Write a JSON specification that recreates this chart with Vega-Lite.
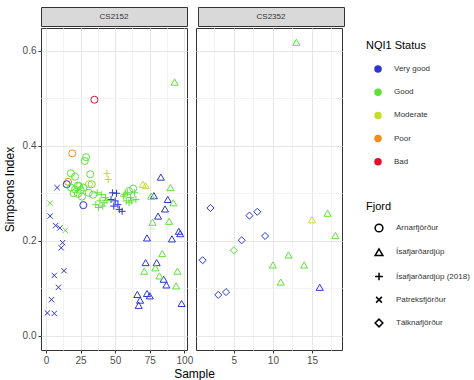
{
  "$schema": "https://vega.github.io/schema/vega-lite/v6.json",
  "padding": {"left": 2, "top": 6, "right": 0, "bottom": 0},
  "background": "white",
  "config": {
    "font": "Liberation Sans",
    "view": {"stroke": "#333333", "strokeWidth": 1},
    "axis": {"labelFontSize": 10, "labelColor": "#4d4d4d", "titleFontSize": 12, "titleColor": "#000000", "titleFontWeight": "normal", "tickColor": "#333333", "tickSize": 3, "labelPadding": 2, "domain": false},
    "legend": {"titleFontSize": 11, "titleFontWeight": "normal", "titleColor": "#000000", "labelFontSize": 8, "labelColor": "#333333"}
  },
  "datasets": {
    "pts": [
      {"panel": "CS2152", "sample": 1, "simpson": 0.048, "status": "Very good", "fjord": "Patreksfjörður"},
      {"panel": "CS2152", "sample": 6, "simpson": 0.047, "status": "Very good", "fjord": "Patreksfjörður"},
      {"panel": "CS2152", "sample": 4, "simpson": 0.076, "status": "Very good", "fjord": "Patreksfjörður"},
      {"panel": "CS2152", "sample": 9, "simpson": 0.102, "status": "Very good", "fjord": "Patreksfjörður"},
      {"panel": "CS2152", "sample": 6, "simpson": 0.127, "status": "Very good", "fjord": "Patreksfjörður"},
      {"panel": "CS2152", "sample": 13, "simpson": 0.137, "status": "Very good", "fjord": "Patreksfjörður"},
      {"panel": "CS2152", "sample": 11, "simpson": 0.185, "status": "Very good", "fjord": "Patreksfjörður"},
      {"panel": "CS2152", "sample": 12, "simpson": 0.196, "status": "Very good", "fjord": "Patreksfjörður"},
      {"panel": "CS2152", "sample": 7, "simpson": 0.232, "status": "Very good", "fjord": "Patreksfjörður"},
      {"panel": "CS2152", "sample": 10, "simpson": 0.227, "status": "Very good", "fjord": "Patreksfjörður"},
      {"panel": "CS2152", "sample": 14, "simpson": 0.222, "status": "Good", "fjord": "Patreksfjörður"},
      {"panel": "CS2152", "sample": 3, "simpson": 0.252, "status": "Very good", "fjord": "Patreksfjörður"},
      {"panel": "CS2152", "sample": 8, "simpson": 0.312, "status": "Very good", "fjord": "Patreksfjörður"},
      {"panel": "CS2152", "sample": 3, "simpson": 0.279, "status": "Good", "fjord": "Patreksfjörður"},
      {"panel": "CS2152", "sample": 35, "simpson": 0.497, "status": "Bad", "fjord": "Arnarfjörður"},
      {"panel": "CS2152", "sample": 19, "simpson": 0.384, "status": "Poor", "fjord": "Arnarfjörður"},
      {"panel": "CS2152", "sample": 16, "simpson": 0.324, "status": "Poor", "fjord": "Arnarfjörður"},
      {"panel": "CS2152", "sample": 15, "simpson": 0.319, "status": "Very good", "fjord": "Arnarfjörður"},
      {"panel": "CS2152", "sample": 27, "simpson": 0.275, "status": "Very good", "fjord": "Arnarfjörður"},
      {"panel": "CS2152", "sample": 31, "simpson": 0.319, "status": "Moderate", "fjord": "Arnarfjörður"},
      {"panel": "CS2152", "sample": 29, "simpson": 0.376, "status": "Good", "fjord": "Arnarfjörður"},
      {"panel": "CS2152", "sample": 28, "simpson": 0.368, "status": "Good", "fjord": "Arnarfjörður"},
      {"panel": "CS2152", "sample": 18, "simpson": 0.342, "status": "Good", "fjord": "Arnarfjörður"},
      {"panel": "CS2152", "sample": 21, "simpson": 0.335, "status": "Good", "fjord": "Arnarfjörður"},
      {"panel": "CS2152", "sample": 32, "simpson": 0.340, "status": "Good", "fjord": "Arnarfjörður"},
      {"panel": "CS2152", "sample": 23, "simpson": 0.316, "status": "Good", "fjord": "Arnarfjörður"},
      {"panel": "CS2152", "sample": 33, "simpson": 0.319, "status": "Good", "fjord": "Arnarfjörður"},
      {"panel": "CS2152", "sample": 18, "simpson": 0.312, "status": "Good", "fjord": "Arnarfjörður"},
      {"panel": "CS2152", "sample": 21, "simpson": 0.308, "status": "Good", "fjord": "Arnarfjörður"},
      {"panel": "CS2152", "sample": 24, "simpson": 0.315, "status": "Good", "fjord": "Arnarfjörður"},
      {"panel": "CS2152", "sample": 25, "simpson": 0.307, "status": "Good", "fjord": "Arnarfjörður"},
      {"panel": "CS2152", "sample": 27, "simpson": 0.312, "status": "Good", "fjord": "Arnarfjörður"},
      {"panel": "CS2152", "sample": 23, "simpson": 0.299, "status": "Good", "fjord": "Arnarfjörður"},
      {"panel": "CS2152", "sample": 26, "simpson": 0.293, "status": "Good", "fjord": "Arnarfjörður"},
      {"panel": "CS2152", "sample": 31, "simpson": 0.301, "status": "Good", "fjord": "Arnarfjörður"},
      {"panel": "CS2152", "sample": 34, "simpson": 0.297, "status": "Good", "fjord": "Arnarfjörður"},
      {"panel": "CS2152", "sample": 20, "simpson": 0.300, "status": "Good", "fjord": "Arnarfjörður"},
      {"panel": "CS2152", "sample": 60, "simpson": 0.305, "status": "Good", "fjord": "Arnarfjörður"},
      {"panel": "CS2152", "sample": 63, "simpson": 0.310, "status": "Good", "fjord": "Arnarfjörður"},
      {"panel": "CS2152", "sample": 44, "simpson": 0.342, "status": "Moderate", "fjord": "Ísafjarðardjúp (2018)"},
      {"panel": "CS2152", "sample": 45, "simpson": 0.329, "status": "Moderate", "fjord": "Ísafjarðardjúp (2018)"},
      {"panel": "CS2152", "sample": 48, "simpson": 0.301, "status": "Very good", "fjord": "Ísafjarðardjúp (2018)"},
      {"panel": "CS2152", "sample": 47, "simpson": 0.287, "status": "Very good", "fjord": "Ísafjarðardjúp (2018)"},
      {"panel": "CS2152", "sample": 50, "simpson": 0.284, "status": "Very good", "fjord": "Ísafjarðardjúp (2018)"},
      {"panel": "CS2152", "sample": 52, "simpson": 0.276, "status": "Very good", "fjord": "Ísafjarðardjúp (2018)"},
      {"panel": "CS2152", "sample": 53, "simpson": 0.266, "status": "Very good", "fjord": "Ísafjarðardjúp (2018)"},
      {"panel": "CS2152", "sample": 55, "simpson": 0.262, "status": "Very good", "fjord": "Ísafjarðardjúp (2018)"},
      {"panel": "CS2152", "sample": 49, "simpson": 0.273, "status": "Very good", "fjord": "Ísafjarðardjúp (2018)"},
      {"panel": "CS2152", "sample": 51, "simpson": 0.300, "status": "Very good", "fjord": "Ísafjarðardjúp (2018)"},
      {"panel": "CS2152", "sample": 37, "simpson": 0.301, "status": "Good", "fjord": "Ísafjarðardjúp (2018)"},
      {"panel": "CS2152", "sample": 40, "simpson": 0.297, "status": "Good", "fjord": "Ísafjarðardjúp (2018)"},
      {"panel": "CS2152", "sample": 39, "simpson": 0.284, "status": "Good", "fjord": "Ísafjarðardjúp (2018)"},
      {"panel": "CS2152", "sample": 36, "simpson": 0.276, "status": "Good", "fjord": "Ísafjarðardjúp (2018)"},
      {"panel": "CS2152", "sample": 41, "simpson": 0.273, "status": "Good", "fjord": "Ísafjarðardjúp (2018)"},
      {"panel": "CS2152", "sample": 43, "simpson": 0.291, "status": "Good", "fjord": "Ísafjarðardjúp (2018)"},
      {"panel": "CS2152", "sample": 38, "simpson": 0.270, "status": "Good", "fjord": "Ísafjarðardjúp (2018)"},
      {"panel": "CS2152", "sample": 42, "simpson": 0.280, "status": "Good", "fjord": "Ísafjarðardjúp (2018)"},
      {"panel": "CS2152", "sample": 44, "simpson": 0.285, "status": "Good", "fjord": "Ísafjarðardjúp (2018)"},
      {"panel": "CS2152", "sample": 56, "simpson": 0.294, "status": "Good", "fjord": "Ísafjarðardjúp (2018)"},
      {"panel": "CS2152", "sample": 59, "simpson": 0.301, "status": "Good", "fjord": "Ísafjarðardjúp (2018)"},
      {"panel": "CS2152", "sample": 61, "simpson": 0.291, "status": "Good", "fjord": "Ísafjarðardjúp (2018)"},
      {"panel": "CS2152", "sample": 64, "simpson": 0.301, "status": "Good", "fjord": "Ísafjarðardjúp (2018)"},
      {"panel": "CS2152", "sample": 65, "simpson": 0.287, "status": "Good", "fjord": "Ísafjarðardjúp (2018)"},
      {"panel": "CS2152", "sample": 58, "simpson": 0.284, "status": "Good", "fjord": "Ísafjarðardjúp (2018)"},
      {"panel": "CS2152", "sample": 60, "simpson": 0.280, "status": "Good", "fjord": "Ísafjarðardjúp (2018)"},
      {"panel": "CS2152", "sample": 62, "simpson": 0.284, "status": "Good", "fjord": "Ísafjarðardjúp (2018)"},
      {"panel": "CS2152", "sample": 57, "simpson": 0.298, "status": "Good", "fjord": "Ísafjarðardjúp (2018)"},
      {"panel": "CS2152", "sample": 93, "simpson": 0.534, "status": "Good", "fjord": "Ísafjarðardjúp"},
      {"panel": "CS2152", "sample": 70, "simpson": 0.319, "status": "Moderate", "fjord": "Ísafjarðardjúp"},
      {"panel": "CS2152", "sample": 72, "simpson": 0.316, "status": "Moderate", "fjord": "Ísafjarðardjúp"},
      {"panel": "CS2152", "sample": 83, "simpson": 0.334, "status": "Very good", "fjord": "Ísafjarðardjúp"},
      {"panel": "CS2152", "sample": 78, "simpson": 0.295, "status": "Very good", "fjord": "Ísafjarðardjúp"},
      {"panel": "CS2152", "sample": 88, "simpson": 0.287, "status": "Very good", "fjord": "Ísafjarðardjúp"},
      {"panel": "CS2152", "sample": 86, "simpson": 0.267, "status": "Very good", "fjord": "Ísafjarðardjúp"},
      {"panel": "CS2152", "sample": 81, "simpson": 0.252, "status": "Very good", "fjord": "Ísafjarðardjúp"},
      {"panel": "CS2152", "sample": 96, "simpson": 0.220, "status": "Very good", "fjord": "Ísafjarðardjúp"},
      {"panel": "CS2152", "sample": 97, "simpson": 0.215, "status": "Very good", "fjord": "Ísafjarðardjúp"},
      {"panel": "CS2152", "sample": 73, "simpson": 0.206, "status": "Very good", "fjord": "Ísafjarðardjúp"},
      {"panel": "CS2152", "sample": 91, "simpson": 0.204, "status": "Very good", "fjord": "Ísafjarðardjúp"},
      {"panel": "CS2152", "sample": 72, "simpson": 0.154, "status": "Very good", "fjord": "Ísafjarðardjúp"},
      {"panel": "CS2152", "sample": 80, "simpson": 0.154, "status": "Very good", "fjord": "Ísafjarðardjúp"},
      {"panel": "CS2152", "sample": 85, "simpson": 0.119, "status": "Very good", "fjord": "Ísafjarðardjúp"},
      {"panel": "CS2152", "sample": 87, "simpson": 0.107, "status": "Very good", "fjord": "Ísafjarðardjúp"},
      {"panel": "CS2152", "sample": 66, "simpson": 0.087, "status": "Very good", "fjord": "Ísafjarðardjúp"},
      {"panel": "CS2152", "sample": 73, "simpson": 0.089, "status": "Very good", "fjord": "Ísafjarðardjúp"},
      {"panel": "CS2152", "sample": 75, "simpson": 0.084, "status": "Very good", "fjord": "Ísafjarðardjúp"},
      {"panel": "CS2152", "sample": 68, "simpson": 0.075, "status": "Very good", "fjord": "Ísafjarðardjúp"},
      {"panel": "CS2152", "sample": 67, "simpson": 0.064, "status": "Very good", "fjord": "Ísafjarðardjúp"},
      {"panel": "CS2152", "sample": 98, "simpson": 0.068, "status": "Very good", "fjord": "Ísafjarðardjúp"},
      {"panel": "CS2152", "sample": 90, "simpson": 0.312, "status": "Good", "fjord": "Ísafjarðardjúp"},
      {"panel": "CS2152", "sample": 76, "simpson": 0.294, "status": "Good", "fjord": "Ísafjarðardjúp"},
      {"panel": "CS2152", "sample": 92, "simpson": 0.280, "status": "Good", "fjord": "Ísafjarðardjúp"},
      {"panel": "CS2152", "sample": 77, "simpson": 0.239, "status": "Good", "fjord": "Ísafjarðardjúp"},
      {"panel": "CS2152", "sample": 89, "simpson": 0.241, "status": "Good", "fjord": "Ísafjarðardjúp"},
      {"panel": "CS2152", "sample": 84, "simpson": 0.173, "status": "Good", "fjord": "Ísafjarðardjúp"},
      {"panel": "CS2152", "sample": 71, "simpson": 0.136, "status": "Good", "fjord": "Ísafjarðardjúp"},
      {"panel": "CS2152", "sample": 79, "simpson": 0.143, "status": "Good", "fjord": "Ísafjarðardjúp"},
      {"panel": "CS2152", "sample": 95, "simpson": 0.136, "status": "Good", "fjord": "Ísafjarðardjúp"},
      {"panel": "CS2152", "sample": 82, "simpson": 0.126, "status": "Good", "fjord": "Ísafjarðardjúp"},
      {"panel": "CS2152", "sample": 94, "simpson": 0.105, "status": "Good", "fjord": "Ísafjarðardjúp"},
      {"panel": "CS2352", "sample": 1, "simpson": 0.159, "status": "Very good", "fjord": "Tálknafjörður"},
      {"panel": "CS2352", "sample": 2, "simpson": 0.269, "status": "Very good", "fjord": "Tálknafjörður"},
      {"panel": "CS2352", "sample": 3, "simpson": 0.086, "status": "Very good", "fjord": "Tálknafjörður"},
      {"panel": "CS2352", "sample": 4, "simpson": 0.092, "status": "Very good", "fjord": "Tálknafjörður"},
      {"panel": "CS2352", "sample": 5, "simpson": 0.180, "status": "Good", "fjord": "Tálknafjörður"},
      {"panel": "CS2352", "sample": 6, "simpson": 0.201, "status": "Very good", "fjord": "Tálknafjörður"},
      {"panel": "CS2352", "sample": 7, "simpson": 0.253, "status": "Very good", "fjord": "Tálknafjörður"},
      {"panel": "CS2352", "sample": 8, "simpson": 0.261, "status": "Very good", "fjord": "Tálknafjörður"},
      {"panel": "CS2352", "sample": 9, "simpson": 0.210, "status": "Very good", "fjord": "Tálknafjörður"},
      {"panel": "CS2352", "sample": 10, "simpson": 0.149, "status": "Good", "fjord": "Ísafjarðardjúp"},
      {"panel": "CS2352", "sample": 11, "simpson": 0.113, "status": "Good", "fjord": "Ísafjarðardjúp"},
      {"panel": "CS2352", "sample": 12, "simpson": 0.170, "status": "Good", "fjord": "Ísafjarðardjúp"},
      {"panel": "CS2352", "sample": 13, "simpson": 0.618, "status": "Good", "fjord": "Ísafjarðardjúp"},
      {"panel": "CS2352", "sample": 14, "simpson": 0.149, "status": "Good", "fjord": "Ísafjarðardjúp"},
      {"panel": "CS2352", "sample": 15, "simpson": 0.244, "status": "Moderate", "fjord": "Ísafjarðardjúp"},
      {"panel": "CS2352", "sample": 16, "simpson": 0.102, "status": "Very good", "fjord": "Ísafjarðardjúp"},
      {"panel": "CS2352", "sample": 17, "simpson": 0.258, "status": "Good", "fjord": "Ísafjarðardjúp"},
      {"panel": "CS2352", "sample": 18, "simpson": 0.211, "status": "Good", "fjord": "Ísafjarðardjúp"}
    ]
  },
  "vconcat": [
    {
      "spacing": 9,
      "hconcat": [
        {
          "width": 146, "height": 19,
          "data": {"values": [{"label": "CS2152"}]},
          "view": {"fill": "#d9d9d9", "stroke": "#333333"},
          "mark": {"type": "text", "fontSize": 8, "fontWeight": "normal", "color": "#333333"},
          "encoding": {"text": {"field": "label"}}
        },
        {
          "width": 146, "height": 19,
          "data": {"values": [{"label": "CS2352"}]},
          "view": {"fill": "#d9d9d9", "stroke": "#333333"},
          "mark": {"type": "text", "fontSize": 8, "fontWeight": "normal", "color": "#333333"},
          "encoding": {"text": {"field": "label"}}
        }
      ]
    },
    {
      "spacing": 9,
      "bounds": "flush",
      "resolve": {"scale": {"color": "shared", "stroke": "shared", "shape": "shared"}, "legend": {"color": "shared", "shape": "shared"}},
      "hconcat": [
        {
          "width": 146, "height": 322,
          "data": {"name": "pts"},
          "transform": [{"filter": "datum.panel === 'CS2152'"}],
          "encoding": {
            "x": {"field": "sample", "type": "quantitative", "scale": {"domain": [-3.6, 101.9], "nice": false, "zero": false},
              "axis": {"title": "Sample", "values": [0, 12.5, 25, 37.5, 50, 62.5, 75, 87.5, 100], "format": "d",
                "labelExpr": "datum.value % 25 === 0 ? datum.label : ''",
                "tickOpacity": {"condition": {"test": "datum.value % 25 !== 0", "value": 0}, "value": 1},
                "gridColor": {"condition": {"test": "datum.value % 25 !== 0", "value": "#f3f3f3"}, "value": "#e6e6e6"},
                "titleX": 153, "titlePadding": 3}},
            "y": {"field": "simpson", "type": "quantitative", "scale": {"domain": [-0.03, 0.648], "nice": false, "zero": false},
              "axis": {"title": "Simpsons Index", "values": [0, 0.1, 0.2, 0.3, 0.4, 0.5, 0.6], "format": ".1f",
                "labelExpr": "round(datum.value * 10) % 2 === 0 ? datum.label : ''",
                "tickOpacity": {"condition": {"test": "round(datum.value * 10) % 2 === 1", "value": 0}, "value": 1},
                "gridColor": {"condition": {"test": "round(datum.value * 10) % 2 === 1", "value": "#f3f3f3"}, "value": "#e6e6e6"},
                "titlePadding": 6}}
          },
          "layer": [
            {
              "mark": {"type": "point", "filled": true, "opacity": 0, "size": 36},
              "encoding": {
                "color": {"field": "status", "type": "nominal",
                  "scale": {"domain": ["Very good", "Good", "Moderate", "Poor", "Bad"], "range": ["#2b35d4", "#62e03a", "#c6dc2e", "#f28c1e", "#e3102a"]},
                  "legend": {"title": "NQI1 Status", "orient": "none", "legendX": 325, "legendY": 33, "padding": 0, "symbolType": "circle", "symbolSize": 36, "symbolOpacity": 1, "symbolOffset": 8, "labelOffset": 12, "titlePadding": 14, "rowPadding": 11.2}}
              }
            },
            {
              "mark": {"type": "point", "filled": false, "size": 50, "strokeWidth": 1, "opacity": 1},
              "encoding": {
                "stroke": {"field": "status", "type": "nominal",
                  "scale": {"domain": ["Very good", "Good", "Moderate", "Poor", "Bad"], "range": ["#2b35d4", "#62e03a", "#c6dc2e", "#f28c1e", "#e3102a"]},
                  "legend": null},
                "shape": {"field": "fjord", "type": "nominal",
                  "scale": {"domain": ["Arnarfjörður", "Ísafjarðardjúp", "Ísafjarðardjúp (2018)", "Patreksfjörður", "Tálknafjörður"], "range": ["circle", "triangle-up", "M-1,0H1M0,-1V1", "M-0.75,-0.75L0.75,0.75M-0.75,0.75L0.75,-0.75", "diamond"]},
                  "legend": {"title": "Fjord", "orient": "none", "legendX": 325, "legendY": 194, "padding": 0, "symbolSize": 60, "symbolStrokeColor": "#000000", "symbolStrokeWidth": 1.5, "symbolOffset": 8, "labelOffset": 12, "titlePadding": 11, "rowPadding": 10.25}}
              }
            }
          ]
        },
        {
          "width": 146, "height": 322,
          "data": {"name": "pts"},
          "transform": [{"filter": "datum.panel === 'CS2352'"}],
          "encoding": {
            "x": {"field": "sample", "type": "quantitative", "scale": {"domain": [0.15, 18.85], "nice": false, "zero": false},
              "axis": {"title": null, "values": [2.5, 5, 7.5, 10, 12.5, 15, 17.5], "format": "d",
                "labelExpr": "datum.value % 5 === 0 ? datum.label : ''",
                "tickOpacity": {"condition": {"test": "datum.value % 5 !== 0", "value": 0}, "value": 1},
                "gridColor": {"condition": {"test": "datum.value % 5 !== 0", "value": "#f3f3f3"}, "value": "#e6e6e6"}}},
            "y": {"field": "simpson", "type": "quantitative", "scale": {"domain": [-0.03, 0.648], "nice": false, "zero": false},
              "axis": {"title": null, "labels": false, "ticks": false, "values": [0, 0.1, 0.2, 0.3, 0.4, 0.5, 0.6],
                "gridColor": {"condition": {"test": "round(datum.value * 10) % 2 === 1", "value": "#f3f3f3"}, "value": "#e6e6e6"}}}
          },
          "layer": [
            {
              "mark": {"type": "point", "filled": true, "opacity": 0, "size": 36},
              "encoding": {
                "color": {"field": "status", "type": "nominal",
                  "scale": {"domain": ["Very good", "Good", "Moderate", "Poor", "Bad"], "range": ["#2b35d4", "#62e03a", "#c6dc2e", "#f28c1e", "#e3102a"]},
                  "legend": {"title": "NQI1 Status", "orient": "none", "legendX": 325, "legendY": 33, "padding": 0, "symbolType": "circle", "symbolSize": 36, "symbolOpacity": 1, "symbolOffset": 8, "labelOffset": 12, "titlePadding": 14, "rowPadding": 11.2}}
              }
            },
            {
              "mark": {"type": "point", "filled": false, "size": 50, "strokeWidth": 1, "opacity": 1},
              "encoding": {
                "stroke": {"field": "status", "type": "nominal",
                  "scale": {"domain": ["Very good", "Good", "Moderate", "Poor", "Bad"], "range": ["#2b35d4", "#62e03a", "#c6dc2e", "#f28c1e", "#e3102a"]},
                  "legend": null},
                "shape": {"field": "fjord", "type": "nominal",
                  "scale": {"domain": ["Arnarfjörður", "Ísafjarðardjúp", "Ísafjarðardjúp (2018)", "Patreksfjörður", "Tálknafjörður"], "range": ["circle", "triangle-up", "M-1,0H1M0,-1V1", "M-0.75,-0.75L0.75,0.75M-0.75,0.75L0.75,-0.75", "diamond"]},
                  "legend": {"title": "Fjord", "orient": "none", "legendX": 325, "legendY": 194, "padding": 0, "symbolSize": 60, "symbolStrokeColor": "#000000", "symbolStrokeWidth": 1.5, "symbolOffset": 8, "labelOffset": 12, "titlePadding": 11, "rowPadding": 10.25}}
              }
            }
          ]
        }
      ]
    }
  ],
  "spacing": 0,
  "resolve": {"scale": {"color": "shared", "stroke": "shared", "shape": "shared"}, "legend": {"color": "shared", "shape": "shared"}}
}
